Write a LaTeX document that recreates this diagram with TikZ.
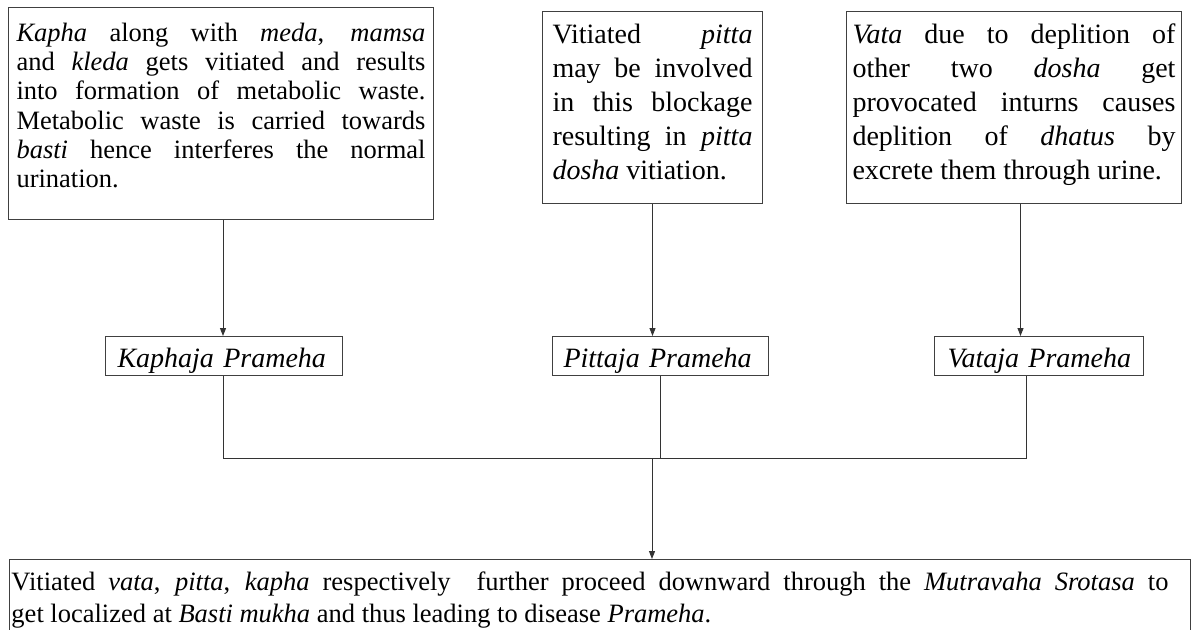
\documentclass[tikz,border=0pt]{standalone}
\usepackage{fontspec}
\setmainfont{Liberation Serif}
\usetikzlibrary{arrows.meta}
\tikzset{
  boxline/.style={draw=black!75, line width=1pt},
  txtbox/.style={boxline, anchor=north west, inner ysep=0pt, align=justify},
  midbox/.style={boxline, anchor=north west, inner ysep=0pt, align=left,
    text height=31pt, text depth=8pt, font=\fontsize{28}{32}\selectfont\itshape},
  conn/.style={draw=black!80, line width=1pt},
  arr/.style={conn, -{Triangle[length=8pt,width=6pt]}}
}
\begin{document}
\begin{tikzpicture}[x=1pt,y=-1pt]
\useasboundingbox (0,0) rectangle (1191,629);
\hyphenpenalty=10000
% top boxes
\node[txtbox, inner xsep=8pt, text width=409pt, text height=34pt, text depth=178pt,
  font=\fontsize{26.5}{29.2}\selectfont] (box1) at (8,7)
  {\textit{Kapha} along with \textit{meda}, \textit{mamsa}\linebreak
   and \textit{kleda} gets vitiated and results\linebreak
   into formation of metabolic waste.\linebreak
   Metabolic waste is carried towards\linebreak
   \textit{basti} hence interferes the normal\linebreak
   urination.};
\node[txtbox, inner xsep=10pt, text width=200pt, text height=32pt, text depth=160pt,
  font=\fontsize{28}{34}\selectfont] (box2) at (542,11)
  {Vitiated \textit{pitta}\linebreak
   may be involved\linebreak
   in this blockage\linebreak
   resulting in \textit{pitta}\linebreak
   \textit{dosha} vitiation.};
\node[txtbox, inner xsep=6pt, text width=323pt, text height=32pt, text depth=160pt,
  font=\fontsize{28}{34}\selectfont] (box3) at (846,11)
  {\textit{Vata} due to deplition of\linebreak
   other two \textit{dosha} get\linebreak
   provocated inturns causes\linebreak
   deplition of \textit{dhatus} by\linebreak
   excrete them through urine.};
% middle boxes
\node[midbox, inner xsep=12pt, text width=213pt] (kaph) at (105,336) {\mbox{Kaphaja Prameha}};
\node[midbox, inner xsep=11pt, text width=194pt] (pitt) at (552,336) {\mbox{Pittaja Prameha}};
\node[midbox, inner xsep=13pt, text width=183pt] (vata) at (934,336) {\mbox{Vataja Prameha}};
% bottom box
\node[txtbox, inner xsep=2pt, text width=1177pt, text height=31pt, text depth=60pt,
  font=\fontsize{26.5}{32}\selectfont] (bot) at (9,559)
  {\makebox[1157pt][s]{Vitiated \textit{vata}, \textit{pitta}, \textit{kapha} respectively~ further proceed downward through the \textit{Mutravaha Srotasa} to}\\
   get localized at \textit{Basti mukha} and thus leading to disease \textit{Prameha}.};
% connectors
\coordinate (hl) at (223,458);
\coordinate (hr) at (1026,458);
\coordinate (join) at (652,458);
\draw[arr] (box1.south -| hl) -- (kaph.north -| hl);
\draw[arr] (box2.south) -- (box2.south |- pitt.north);
\draw[arr] ([xshift=6.5pt]box3.south) -- ([xshift=6.5pt]box3.south |- vata.north);
\draw[conn] (kaph.south -| hl) -- (hl) -- (hr) -- (hr |- vata.south);
\draw[conn] (pitt.south) -- (pitt.south |- hl);
\draw[arr] (join) -- (join |- bot.north);
\end{tikzpicture}
\end{document}
